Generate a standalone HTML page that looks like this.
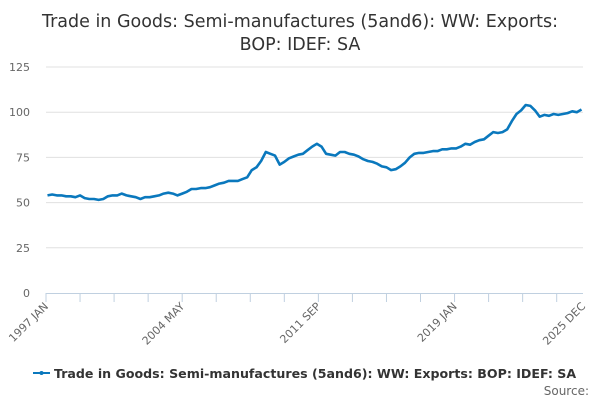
<!DOCTYPE html>
<html><head><meta charset="utf-8"><style>
body{margin:0;background:#fff;}
svg{display:block;font-family:"DejaVu Sans","Liberation Sans",sans-serif;}
</style></head><body>
<svg id="chart" width="600" height="400">
<text x="300" y="27" text-anchor="middle" font-size="17.5" fill="#333">Trade in Goods: Semi-manufactures (5and6): WW: Exports:</text>
<text x="300" y="50" text-anchor="middle" font-size="17.5" fill="#333">BOP: IDEF: SA</text>
<g id="grid"></g><g id="xaxis"></g><g id="series"></g>
<g>
<line x1="33" y1="373" x2="50" y2="373" stroke="#0a78bd" stroke-width="2"/>
<circle cx="41.5" cy="373" r="2" fill="#0a78bd"/>
<text x="54" y="378" font-size="12.6" font-weight="bold" fill="#333">Trade in Goods: Semi-manufactures (5and6): WW: Exports: BOP: IDEF: SA</text>
</g>
<text x="589" y="395" text-anchor="end" font-size="12" fill="#666">Source:</text>
</svg>
<script>
const yTicks=[0,25,50,75,100,125];
const xTickLabels=["1997 JAN","2004 MAY","2011 SEP","2019 JAN","2025 DEC"];
const xTickMonths=[0,88,176,264,347];
const values=[54,54.5,54,54, 53.5,53.5,53,54, 52.5,52,52,51.5, 52,53.5,54,54, 55,54,53.5,53,
52,53,53,53.5, 54,55,55.5,55, 54,55,56,57.5, 57.5,58,58,58.5, 59.5,60.5,61,62,
62,62,63,64, 68,69.5,73,78, 77,76,71,72.5, 74.5,75.5,76.5,77, 79,81,82.5,81,
77,76.5,76,78, 78,77,76.5,75.5, 74,73,72.5,71.5, 70,69.5,68,68.5, 70,72,75,77,
77.5,77.5,78,78.5, 78.5,79.5,79.5,80, 80,81,82.5,82, 83.5,84.5,85,87, 89,88.5,89,90.5,
95,99,101,104, 103.5,101,97.5,98.5, 98,99,98.5,99, 99.5,100.5,100,101.5];
const ns="http://www.w3.org/2000/svg";
const X0=46,X1=583,Y0=293,Y1=67;
function xs(m){return X0+m/347*(X1-X0);}
function ys(v){return Y0-v/125*(Y0-Y1);}
const grid=document.getElementById('grid');
yTicks.forEach(t=>{
 if(t>0){const l=document.createElementNS(ns,'line');
 l.setAttribute('x1',X0);l.setAttribute('x2',X1);l.setAttribute('y1',ys(t));l.setAttribute('y2',ys(t));
 l.setAttribute('stroke','#e0e0e0');l.setAttribute('stroke-width','1');
 
 
 grid.appendChild(l);}
 const tx=document.createElementNS(ns,'text');
 tx.setAttribute('x',30);tx.setAttribute('y',ys(t)+4);tx.setAttribute('text-anchor','end');
 tx.setAttribute('font-size','11');tx.setAttribute('fill','#666');tx.textContent=t;
 
 
 grid.appendChild(tx);
});
const xa=document.getElementById('xaxis');
const al=document.createElementNS(ns,'line');
al.setAttribute('x1',X0);al.setAttribute('x2',X1);al.setAttribute('y1',Y0+0.5);al.setAttribute('y2',Y0+0.5);
al.setAttribute('stroke','#c0d0e0');


xa.appendChild(al);
for(let m=0;m<=347;m+=22){
 const t=document.createElementNS(ns,'line');const x=m>330?X1:xs(m);
 t.setAttribute('x1',x);t.setAttribute('x2',x);t.setAttribute('y1',Y0);t.setAttribute('y2',Y0+9);
 t.setAttribute('stroke','#c0d0e0');
 
 
 xa.appendChild(t);
}
xTickLabels.forEach((lab,i)=>{
 const x=xs(xTickMonths[i]);
 const tx=document.createElementNS(ns,'text');
 tx.setAttribute('x',x+3);tx.setAttribute('y',Y0+14);tx.setAttribute('text-anchor','end');
 tx.setAttribute('font-size','11');tx.setAttribute('fill','#666');
 tx.setAttribute('transform','rotate(-45 '+(x+3)+' '+(Y0+14)+')');tx.textContent=lab;
 
 
 xa.appendChild(tx);
});
const s=document.getElementById('series');
let d='';
values.forEach((v,i)=>{const m=Math.min(347,i*3+1);d+=(i?'L':'M')+xs(m).toFixed(1)+' '+ys(v).toFixed(1);});
const p=document.createElementNS(ns,'path');
p.setAttribute('d',d);p.setAttribute('fill','none');p.setAttribute('stroke','#0a78bd');
p.setAttribute('stroke-width','2.6');p.setAttribute('stroke-linejoin','round');


s.appendChild(p);
</script>
</body></html>
